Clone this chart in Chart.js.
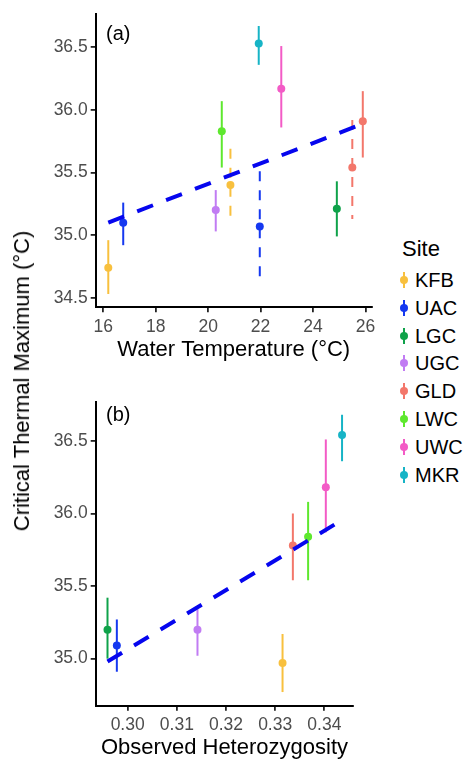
<!DOCTYPE html>
<html>
<head>
<meta charset="utf-8">
<script src="https://cdn.jsdelivr.net/npm/chart.js@4.4.0/dist/chart.umd.min.js"></script>
<style>
  body { margin: 0; background: #fff; font-family: 'Liberation Sans', Arial, sans-serif; }
  #wrap { position: relative; width: 470px; height: 761px; overflow: hidden; }
  canvas { position: absolute; left: 0; }
  .panel-tag { position: absolute; font-size: 20px; color: #000; line-height: 20px; }
  #ytitle { position: absolute; left: 22px; top: 381px; font-size: 22px; white-space: nowrap;
            transform: translate(-50%, -50%) rotate(-90deg); }
  #legend { position: absolute; left: 396px; top: 236px; }
  .leg-title { position: absolute; left: 6px; top: 0; font-size: 22px; white-space: nowrap; }
  .leg-item { position: absolute; left: 0; height: 20px; white-space: nowrap; font-size: 20px; }
  .leg-line { position: absolute; left: 6.5px; top: 2px; width: 2px; height: 16px; }
  .leg-dot { position: absolute; left: 3.5px; top: 6px; width: 8px; height: 8px; border-radius: 50%; }
  .leg-text { position: absolute; left: 19px; top: -2px; line-height: 24px; }
</style>
</head>
<body>
<div id="wrap">
  <canvas id="panelA" width="392" height="372" style="top:0"></canvas>
  <canvas id="panelB" width="392" height="381" style="top:380px"></canvas>
  <div class="panel-tag" style="left:106px; top:23px">(a)</div>
  <div class="panel-tag" style="left:106px; top:404px">(b)</div>
  <div id="ytitle">Critical Thermal Maximum (°C)</div>
  <div id="legend"></div>
</div>
<script>
// Sites and their colours
const sites = ['KFB', 'UAC', 'LGC', 'UGC', 'GLD', 'LWC', 'UWC', 'MKR'];
const siteColors = ['#F8C03E', '#1538F0', '#0FA24A', '#C17CF3', '#F3776B', '#5EE82E', '#F35BC6', '#17B4C6'];

// Panel (a): CTmax vs water temperature
const aSite   = ['KFB', 'KFB', 'UAC', 'UAC', 'UGC', 'LWC', 'MKR', 'UWC', 'LGC', 'GLD', 'GLD'];
const aTemp   = [16.19, 20.85, 16.76, 21.97, 20.29, 20.52, 21.93, 22.79, 24.91, 25.50, 25.90];
const aCtmax  = [34.74, 35.40, 35.10, 35.07, 35.20, 35.83, 36.53, 36.17, 35.21, 35.54, 35.91];
const aLow    = [34.53, 35.13, 34.92, 34.67, 35.03, 35.54, 36.36, 35.86, 34.99, 35.13, 35.62];
const aHigh   = [34.96, 35.69, 35.26, 35.51, 35.36, 36.07, 36.67, 36.51, 35.43, 35.92, 36.15];
const aDashed = [false, true, false, true, false, false, false, false, false, true, false];
const aFitX   = [16.19, 25.90];
const aFitY   = [35.10, 35.89];
const aXTicks = [16, 18, 20, 22, 24, 26];
const aYTicks = [34.5, 35.0, 35.5, 36.0, 36.5];

// Panel (b): CTmax vs observed heterozygosity
const bSite   = ['LGC', 'UAC', 'UGC', 'KFB', 'GLD', 'LWC', 'UWC', 'MKR'];
const bHet    = [0.2959, 0.2978, 0.3142, 0.3315, 0.3336, 0.3367, 0.3403, 0.3436];
const bCtmax  = [35.20, 35.09, 35.20, 34.97, 35.78, 35.84, 36.18, 36.54];
const bLow    = [35.00, 34.91, 35.02, 34.77, 35.54, 35.54, 35.87, 36.36];
const bHigh   = [35.42, 35.27, 35.34, 35.17, 36.00, 36.08, 36.51, 36.68];
const bDashed = [false, false, false, false, false, false, false, false];
const bFitX   = [0.2959, 0.3436];
const bFitY   = [34.98, 35.955];
const bXTicks = [0.30, 0.31, 0.32, 0.33, 0.34];
const bYTicks = [35.0, 35.5, 36.0, 36.5];

const colorOf = s => siteColors[sites.indexOf(s)];
const FONT = "'Liberation Sans', Arial, sans-serif";

// vertical error bars, drawn under the points
function errorBars(xs, site, low, high, dashed) {
  return {
    id: 'errorBars',
    beforeDatasetsDraw(chart) {
      const {ctx, scales: {x, y}} = chart;
      ctx.save();
      ctx.lineWidth = 2;
      xs.forEach((xv, i) => {
        const px = x.getPixelForValue(xv);
        ctx.strokeStyle = colorOf(site[i]);
        ctx.setLineDash(dashed[i] ? [10, 9] : []);
        ctx.beginPath();
        ctx.moveTo(px, y.getPixelForValue(high[i]));
        ctx.lineTo(px, y.getPixelForValue(low[i]));
        ctx.stroke();
      });
      ctx.restore();
    }
  };
}

function makeConfig(p) {
  return {
    type: 'scatter',
    data: {
      datasets: [{
        data: p.fitX.map((x, i) => ({x: x, y: p.fitY[i]})),
        showLine: true,
        borderColor: '#0606EE',
        borderWidth: 4,
        borderDash: [17, 14],
        pointRadius: 0,
        fill: false,
        order: 0
      }, {
        data: p.xs.map((x, i) => ({x: x, y: p.ys[i]})),
        pointRadius: 4,
        pointBorderWidth: 0,
        pointBackgroundColor: p.site.map(colorOf),
        order: 1
      }]
    },
    options: {
      responsive: false,
      animation: false,
      layout: { padding: { left: 0, top: p.padTop, right: p.padRight, bottom: 0 } },
      plugins: { legend: { display: false }, tooltip: { enabled: false } },
      scales: {
        x: {
          type: 'linear',
          min: p.xMin, max: p.xMax,
          afterBuildTicks: s => { s.ticks = p.xTicks.map(v => ({value: v})); },
          afterFit: s => { s.height = p.xHeight; },
          border: { display: true, color: '#000', width: 2 },
          grid: { drawOnChartArea: false, color: '#222', lineWidth: 1.8, tickLength: 5 },
          ticks: {
            autoSkip: false, maxRotation: 0, padding: 4,
            color: '#4D4D4D', font: { family: FONT, size: 17.5 },
            callback: v => v.toFixed(p.xDigits)
          },
          title: {
            display: true, text: p.xTitle, color: '#000',
            font: { family: FONT, size: 22 }, padding: { top: 0, bottom: p.titlePad }
          }
        },
        y: {
          type: 'linear',
          min: p.yMin, max: p.yMax,
          afterBuildTicks: s => { s.ticks = p.yTicks.map(v => ({value: v})); },
          afterFit: s => { s.width = 95.7; },
          border: { display: true, color: '#000', width: 2 },
          grid: { drawOnChartArea: false, color: '#222', lineWidth: 1.8, tickLength: 5 },
          ticks: {
            autoSkip: false, padding: 3,
            color: '#4D4D4D', font: { family: FONT, size: 17.5 },
            callback: v => v.toFixed(1)
          }
        }
      }
    },
    plugins: [errorBars(p.xs, p.site, p.low, p.high, p.dashed)]
  };
}

new Chart(document.getElementById('panelA'), makeConfig({
  xs: aTemp, ys: aCtmax, site: aSite, low: aLow, high: aHigh, dashed: aDashed,
  fitX: aFitX, fitY: aFitY, xTicks: aXTicks, yTicks: aYTicks, xDigits: 0,
  xMin: 15.71, xMax: 26.24, yMin: 34.424, yMax: 36.77,
  xTitle: 'Water Temperature (°C)',
  padTop: 10, padRight: 392 - 371.7, xHeight: 372 - 307.3, titlePad: 9
}));

new Chart(document.getElementById('panelB'), makeConfig({
  xs: bHet, ys: bCtmax, site: bSite, low: bLow, high: bHigh, dashed: bDashed,
  fitX: bFitX, fitY: bFitY, xTicks: bXTicks, yTicks: bYTicks, xDigits: 2,
  xMin: 0.2935, xMax: 0.34589, yMin: 34.676, yMax: 36.77,
  xTitle: 'Observed Heterozygosity',
  padTop: 21.7, padRight: 392 - 353.3, xHeight: 381 - 325.7, titlePad: 0
}));

// legend
const legend = document.getElementById('legend');
const title = document.createElement('div');
title.className = 'leg-title';
title.textContent = 'Site';
legend.appendChild(title);
sites.forEach((s, i) => {
  const item = document.createElement('div');
  item.className = 'leg-item';
  item.style.top = (34 + i * 27.8) + 'px';
  item.innerHTML = '<span class="leg-line" style="background:' + siteColors[i] + '"></span>' +
    '<span class="leg-dot" style="background:' + siteColors[i] + '"></span>' +
    '<span class="leg-text">' + s + '</span>';
  legend.appendChild(item);
});
</script>
</body>
</html>
